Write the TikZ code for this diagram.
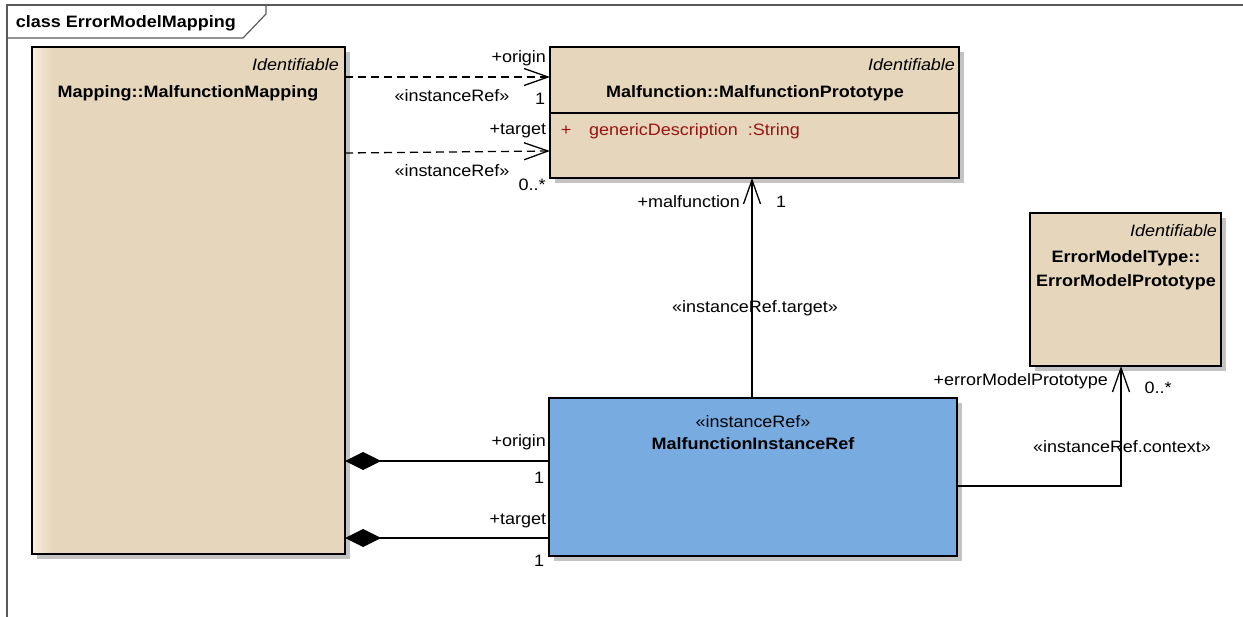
\documentclass[tikz,border=0pt]{standalone}
\usepackage{fontspec}
\setmainfont{Liberation Sans}[FakeStretch=1.09]
\usetikzlibrary{arrows.meta,shadows}
\definecolor{beige}{RGB}{230,215,188}
\definecolor{beigelight}{RGB}{248,238,222}
\definecolor{refblue}{RGB}{120,172,225}
\definecolor{attrred}{RGB}{150,20,20}
\definecolor{framegray}{RGB}{90,90,90}
\definecolor{shadowgray}{RGB}{195,195,195}
\begin{document}
\begin{tikzpicture}[x=1pt,y=-1pt,
  every node/.style={font=\fontsize{16.5}{19}\selectfont, inner sep=0pt, outer sep=0pt},
  classbox/.style={draw=black, line width=1.6pt, fill=beige, anchor=north west,
    drop shadow={shadow xshift=5pt, shadow yshift=-5pt, fill=shadowgray, opacity=1}},
  bname/.style={font=\fontsize{16.5}{19}\selectfont\bfseries},
  stereo/.style={font=\fontsize{16.5}{19}\selectfont\itshape},
  conn/.style={line width=1.3pt, draw=black},
  openarrow/.style={-{Straight Barb[length=24pt,width=17pt,line width=1.3pt]}},
  dashconn/.style={conn, dash pattern=on 8pt off 5pt},
  comp/.style={{Diamond[length=36pt,width=18pt]}-}
]
\useasboundingbox (0,0) rectangle (1243,617);
% frame
\draw[framegray, line width=1.5pt] (7,617) -- (7,5) -- (1243,5);
\draw[framegray, line width=1.2pt] (7,38) -- (243,38) -- (266,14) -- (266,5);
\node[anchor=west, font=\fontsize{16.5}{19}\selectfont\bfseries] (title) at (16,23) {class ErrorModelMapping};

% boxes
\node[classbox, minimum width=313pt, minimum height=507pt] (mm) at (32,47) {};
\fill[left color=beigelight, right color=beige] ([shift={(1pt,-1pt)}]mm.north west) rectangle ([shift={(20pt,1pt)}]mm.south west);
\draw[line width=1.6pt] (mm.north west) rectangle (mm.south east);

\node[classbox, minimum width=409pt, minimum height=131pt] (mp) at (550,47) {};
\draw[line width=1.6pt] (mp.west |- 0,113) -- (mp.east |- 0,113);

\node[classbox, minimum width=191pt, minimum height=153pt] (ep) at (1030,213) {};

\node[classbox, fill=refblue, minimum width=408pt, minimum height=158pt] (ir) at (549,398) {};

% box texts
\node[stereo, anchor=east] (mmst) at (339,65) {Identifiable};
\node[bname] (mmname) at (188,93) {Mapping::MalfunctionMapping};
\node[stereo, anchor=east] (mpst) at (955,65) {Identifiable};
\node[bname] (mpname) at (755,93) {Malfunction::MalfunctionPrototype};
\node[text=attrred] (plus) at (566,131) {+};
\node[text=attrred, anchor=west] (attr) at (589,131) {genericDescription\hspace{5pt} :String};
\node[stereo, anchor=east] (epst) at (1217,231) {Identifiable};
\node[bname] (epname1) at (1126,258) {ErrorModelType::};
\node[bname] (epname2) at (1126,282) {ErrorModelPrototype};
\node (irst) at (753,422) {«instanceRef»};
\node[bname] (irname) at (753,444) {MalfunctionInstanceRef};

% connectors
\draw[dashconn, openarrow] (mm.east |- 0,77) -- (mp.west |- 0,77);
\draw[dashconn, openarrow] (mm.east |- 0,153) -- (mp.west |- 0,151);
\draw[conn, openarrow] (ir.north -| 752,0) -- (mp.south -| 752,0);
\draw[conn, openarrow] (ir.east |- 0,486) -| (ep.south -| 1121,0);
\draw[conn, comp] (mm.east |- 0,461) -- (ir.west |- 0,461);
\draw[conn, comp] (mm.east |- 0,538) -- (ir.west |- 0,538);

% connector labels
\node[anchor=east] (l1) at (546,58) {+origin};
\node (l2) at (452,96) {«instanceRef»};
\node (l3) at (540,99) {1};
\node[anchor=east] (l4) at (546,131) {+target};
\node (l5) at (452,171) {«instanceRef»};
\node (l6) at (532,185) {0..*};
\node[anchor=east] (l7) at (740,202) {+malfunction};
\node (l8) at (781,202) {1};
\node (l9) at (755,308) {«instanceRef.target»};
\node[anchor=east] (l10) at (1108,381) {+errorModelPrototype};
\node (l11) at (1158,388) {0..*};
\node (l12) at (1122,447) {«instanceRef.context»};
\node[anchor=east] (l13) at (546,442) {+origin};
\node (l14) at (539,478) {1};
\node[anchor=east] (l15) at (546,521) {+target};
\node (l16) at (539,561) {1};
\end{tikzpicture}
\end{document}
